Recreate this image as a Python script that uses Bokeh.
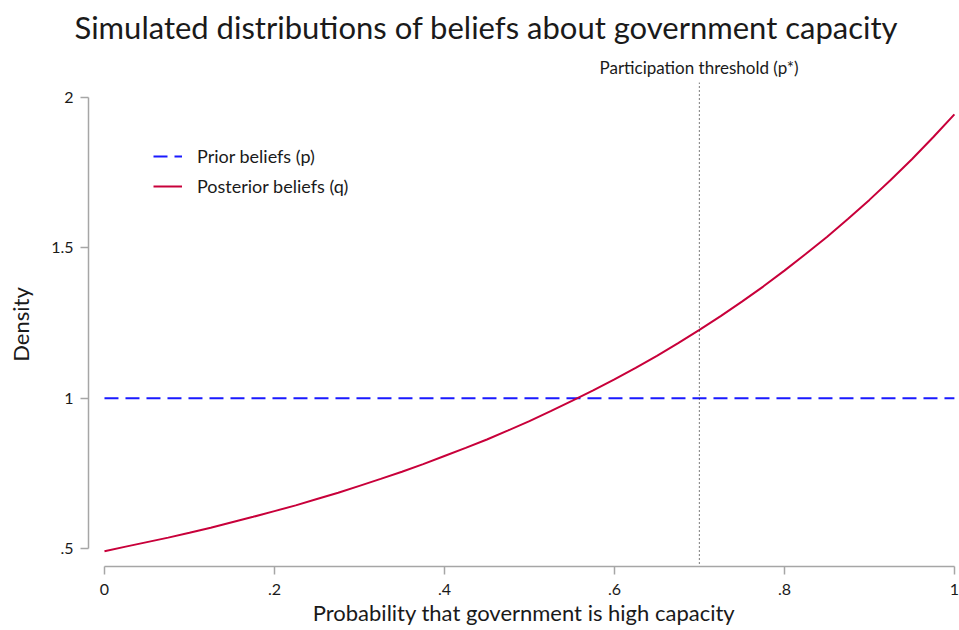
from bokeh.plotting import figure
from bokeh.models import Range1d, FixedTicker, Span, Title, Legend
from bokeh.embed import file_html
from bokeh.resources import INLINE

# ---- data ----
p_grid = [0.000, 0.025, 0.050, 0.075, 0.100, 0.125, 0.150, 0.175, 0.200, 0.225,
          0.250, 0.275, 0.300, 0.325, 0.350, 0.375, 0.400, 0.425, 0.450, 0.475,
          0.500, 0.525, 0.550, 0.575, 0.600, 0.625, 0.650, 0.675, 0.700, 0.725,
          0.750, 0.775, 0.800, 0.825, 0.850, 0.875, 0.900, 0.925, 0.950, 0.975,
          1.000]
prior_density = [1.0] * 41
posterior_density = [0.492, 0.507, 0.522, 0.537, 0.553, 0.570, 0.588, 0.606,
                     0.625, 0.644, 0.665, 0.686, 0.709, 0.732, 0.756, 0.781,
                     0.808, 0.835, 0.863, 0.893, 0.924, 0.957, 0.991, 1.026,
                     1.063, 1.101, 1.141, 1.183, 1.227, 1.273, 1.321, 1.371,
                     1.424, 1.479, 1.536, 1.596, 1.659, 1.725, 1.794, 1.867,
                     1.943]
threshold = 0.70
x_ticks = [0, 0.2, 0.4, 0.6, 0.8, 1]
x_tick_labels = ["0", ".2", ".4", ".6", ".8", "1"]
y_ticks = [0.5, 1, 1.5, 2]
y_tick_labels = [".5", "1", "1.5", "2"]

title_text = "Simulated distributions of beliefs about government capacity"
x_title = "Probability that government is high capacity"
y_title = "Density"
threshold_text = "Participation threshold (p*)"
prior_name = "Prior beliefs (p)"
post_name = "Posterior beliefs (q)"

FONT = "Lato"
TXT = "#1a1a1a"
AXC = "#a6a6a6"

p = figure(width=959, height=630, output_backend="svg", toolbar_location=None,
           title=None,
           x_range=Range1d(-0.0188, 1.006), y_range=Range1d(0.441, 2.049),
           min_border_left=88, min_border_right=0, min_border_top=82,
           min_border_bottom=64)
p.outline_line_color = None
p.grid.visible = False
p.background_fill_color = "white"
p.border_fill_color = "white"

p.xaxis.ticker = FixedTicker(ticks=x_ticks)
p.xaxis.major_label_overrides = dict(zip(x_ticks, x_tick_labels))
p.yaxis.ticker = FixedTicker(ticks=y_ticks)
p.yaxis.major_label_overrides = dict(zip(y_ticks, y_tick_labels))
p.xaxis.bounds = (0, 1)
p.yaxis.bounds = (0.5, 2)
p.yaxis.major_label_orientation = "horizontal"

for ax in (p.xaxis, p.yaxis):
    ax.axis_line_color = AXC
    ax.axis_line_width = 1.5
    ax.major_tick_line_color = AXC
    ax.major_tick_line_width = 1.5
    ax.major_tick_in = 0
    ax.major_tick_out = 8
    ax.minor_tick_line_color = None
    ax.major_label_text_font = FONT
    ax.major_label_text_font_size = "16px"
    ax.major_label_text_color = TXT
    ax.major_label_text_line_height = 1.0
    ax.axis_label_text_font = FONT
    ax.axis_label_text_font_style = "normal"
    ax.axis_label_text_color = TXT
    ax.axis_label_text_font_size = "22px"
    ax.axis_label_text_line_height = 1.0

p.xaxis.axis_label = x_title
p.yaxis.axis_label = y_title
p.xaxis.major_label_standoff = 9
p.yaxis.major_label_standoff = 7
p.xaxis.axis_label_standoff = 1
p.yaxis.axis_label_standoff = 14

r_prior = p.line(p_grid, prior_density, line_color="#1a1aff", line_width=2,
                 line_dash="14 7")
r_post = p.line(p_grid, posterior_density, line_color="#c8003a", line_width=2)

p.add_layout(Span(location=threshold, dimension="height", line_color="#222222",
                  line_width=1.2, line_dash="1 3"))

# annotation above the threshold line (inner panel), then the main title (outer)
p.add_layout(Title(text=threshold_text, align="left", offset=511,
                   text_font=FONT, text_font_size="17px", text_font_style="normal",
                   text_color=TXT, standoff=10, vertical_align="bottom"), "above")
p.add_layout(Title(text=title_text, align="left", offset=-14,
                   text_font=FONT, text_font_size="31px", text_font_style="normal",
                   text_color=TXT, standoff=7, vertical_align="bottom"), "above")

legend = Legend(items=[(prior_name, [r_prior]), (post_name, [r_post])],
                location=(65, 369), orientation="vertical",
                glyph_width=29, glyph_height=20, label_height=20,
                label_standoff=15, spacing=8, padding=0, margin=0,
                background_fill_alpha=0, border_line_color=None,
                label_text_font=FONT, label_text_font_size="18px",
                label_text_color=TXT)
p.add_layout(legend)

open("out.html", "w").write(file_html(p, INLINE))
